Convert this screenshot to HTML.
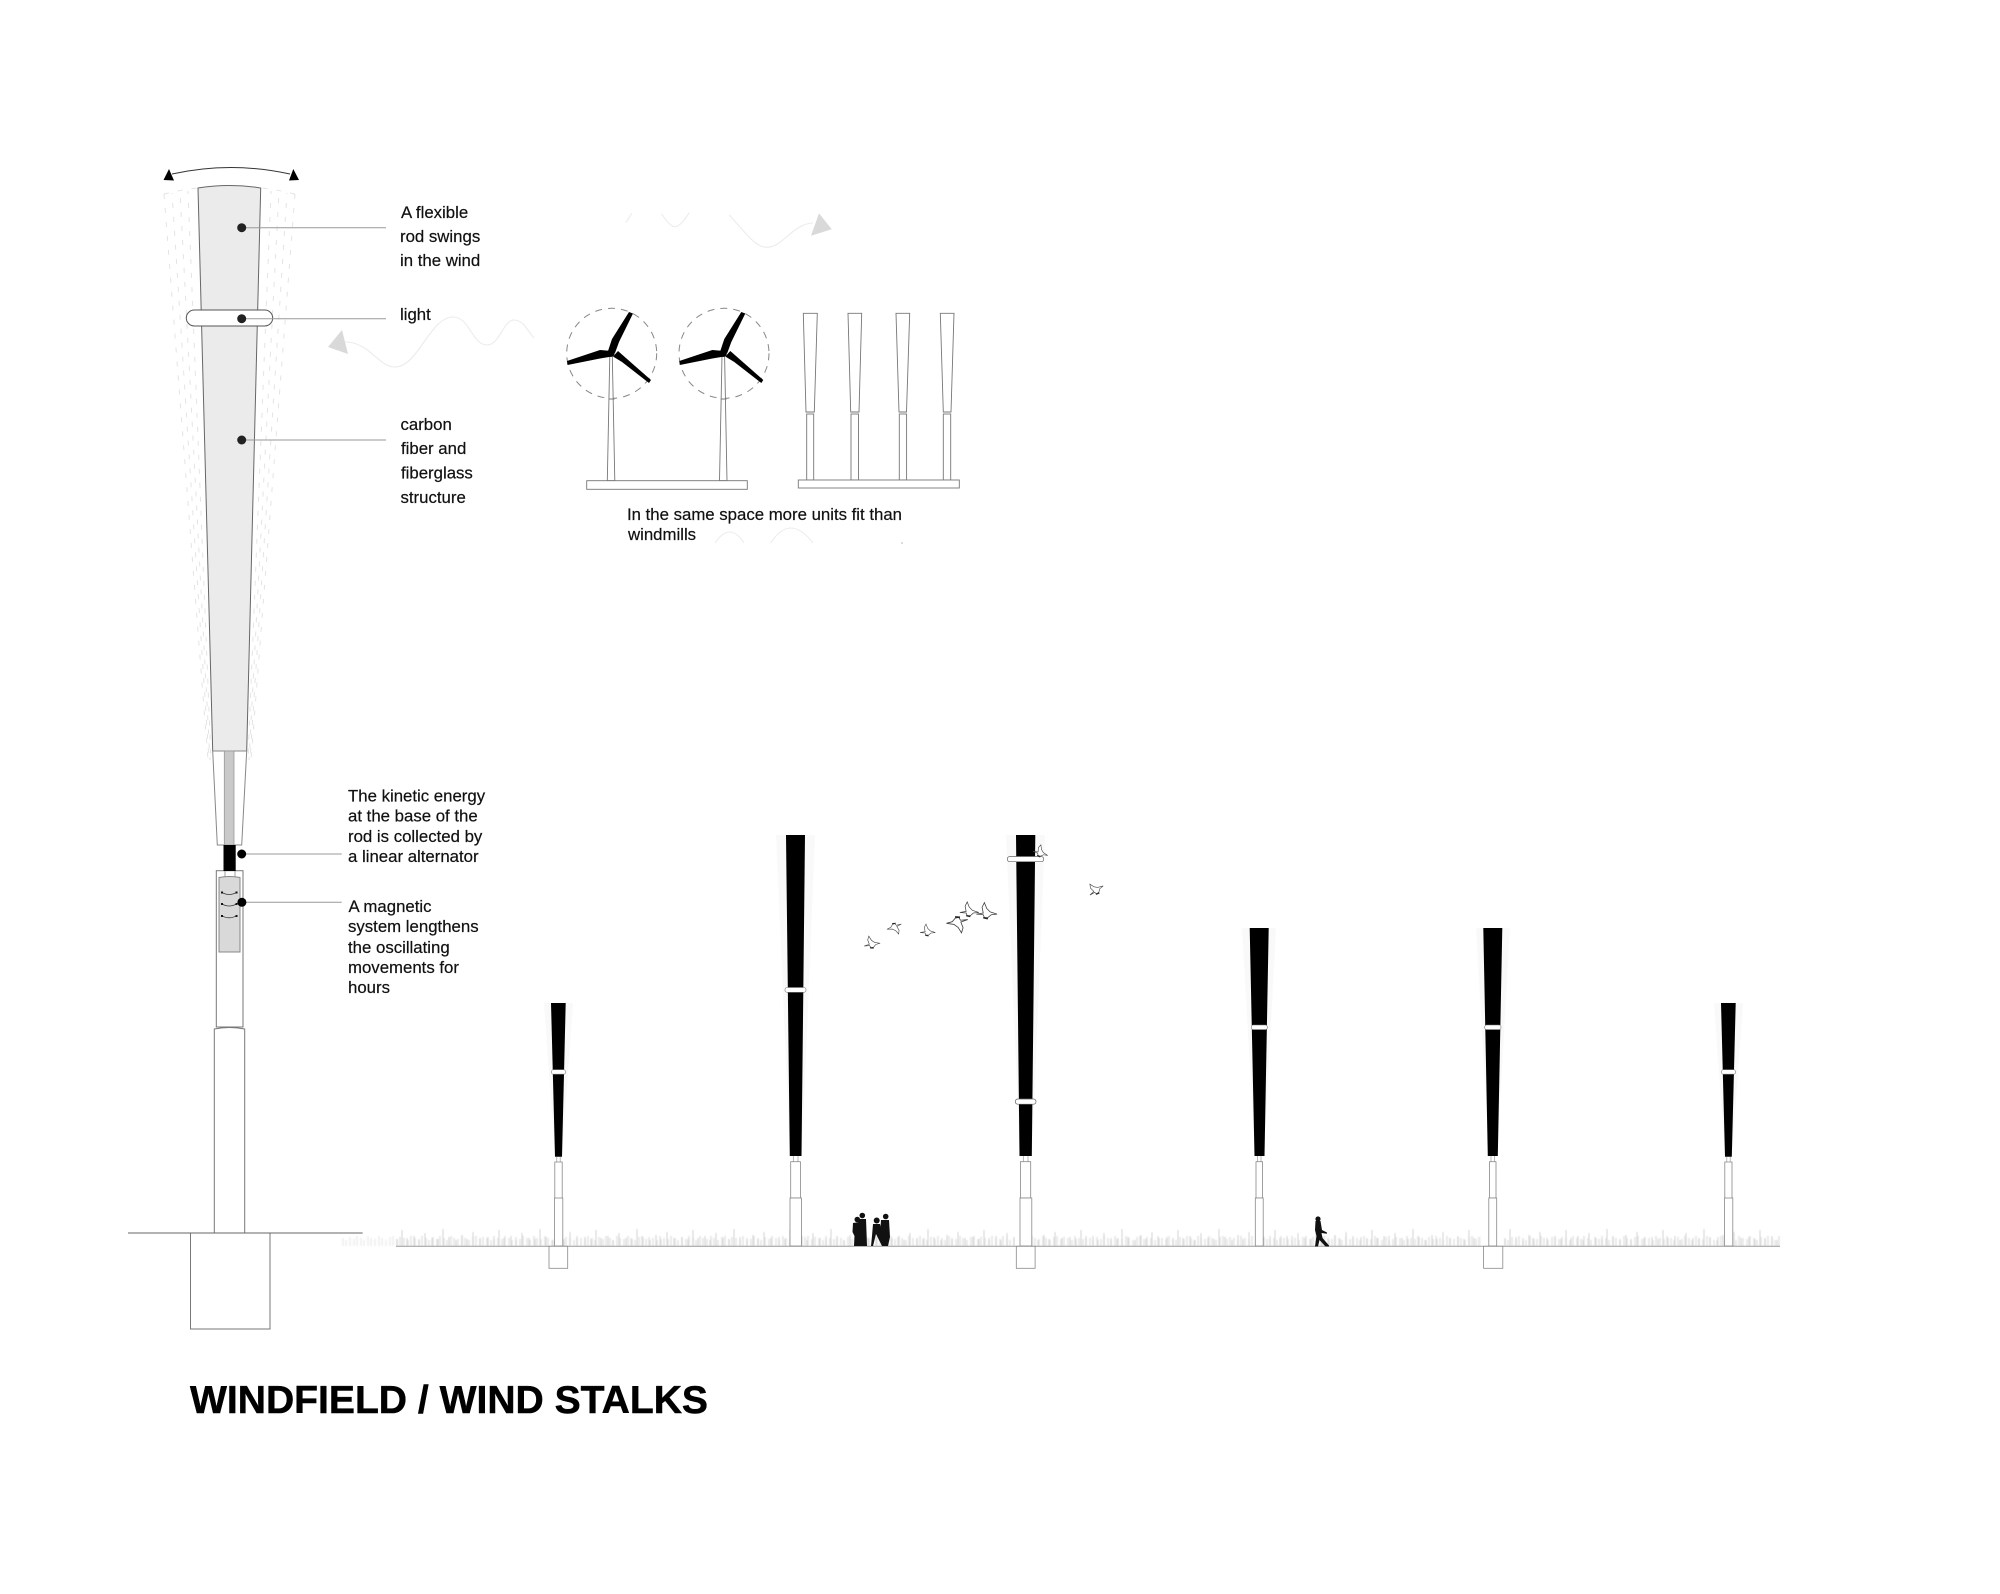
<!DOCTYPE html>
<html><head><meta charset="utf-8"><title>Windfield / Wind Stalks</title>
<style>html,body{margin:0;padding:0;background:#fff}svg{display:block}text{font-family:"Liberation Sans",sans-serif;fill:#111;stroke:#111;stroke-width:.2px;font-size:16.8px}</style>
</head><body>
<svg xmlns="http://www.w3.org/2000/svg" width="2000" height="1594" viewBox="0 0 2000 1594">
<defs>
<filter id="soft" x="-2%" y="-10%" width="104%" height="120%"><feGaussianBlur stdDeviation="0.5"/></filter>
<pattern id="g1" patternUnits="userSpaceOnUse" x="0" y="1224" width="97" height="22">
<g stroke="#d2d2d2" stroke-width="1" fill="none">
<path d="M3 22V13M9 22V15M14 22V6M19 22V14M26 22V12M31 22V16M37 22V9M44 22V14M50 22V15M55 22V5M61 22V13M68 22V16M74 22V11M79 22V15M85 22V8M92 22V14"/>
</g></pattern>
<pattern id="g2" patternUnits="userSpaceOnUse" x="17" y="1224" width="83" height="22">
<g stroke="#e4e4e4" stroke-width="1.6" fill="none">
<path d="M1 22V13M5 22V15M8 22V12M12 22V14M15 22V16M19 22V12M22 22V14M26 22V15M30 22V12M33 22V14M37 22V16M41 22V13M44 22V12M48 22V15M51 22V13M55 22V14M59 22V16M62 22V12M66 22V14M70 22V15M73 22V12M77 22V14M80 22V16"/>
</g></pattern>
<g id="blades">
<polygon fill="#000" points="608,351 612,339 629,312 633,313.500 619,342 615,353"/>
<polygon fill="#000" points="612,351 600,350 567,361 567.500,365 600,358.500 612,356.500"/>
<polygon fill="#000" points="613,356.500 618,351 651,380 649,383 622,362"/>
<circle cx="611" cy="353.300" r="3.600" fill="#000"/>
</g>
<g id="bird">
<path d="M-9,3 L-3,2 L-4,-3 L-2,-7 L0,-2 L3,1 L9,3 L4,3.500 L1,6 L-2,6 L-3,3.500 Z" fill="#fff" stroke="#444" stroke-width="0.7"/>
<path d="M-3,6 L1,7" stroke="#222" stroke-width="1.300"/>
</g>
</defs>
<rect width="2000" height="1594" fill="#fff"/>

<!-- swing fan -->
<g fill="none" stroke="#e4e4e4" stroke-width="1" stroke-dasharray="5 9">
<path d="M164,194Q180,190 197,188M295,194Q279,190 262,188"/>
<path d="M164,194L208,760"/><path d="M172,193L209,760" stroke-dashoffset="4"/>
<path d="M180,192L210,760" stroke-dashoffset="8"/><path d="M188,191L211,760" stroke-dashoffset="2"/>
<path d="M295,194L251,760"/><path d="M287,193L250,760" stroke-dashoffset="4"/>
<path d="M279,192L249,760" stroke-dashoffset="8"/><path d="M271,191L248,760" stroke-dashoffset="2"/>
</g>

<!-- swing arrow -->
<path d="M172,174Q231,161 290,174" fill="none" stroke="#333" stroke-width="1"/>
<polygon points="169,169 163.500,180 174,180.500" fill="#000"/>
<polygon points="293.300,169 299,180 289,180.500" fill="#000"/>

<!-- main rod -->
<path d="M198,188Q229.500,183 260.700,188L246.700,751H212.700Z" fill="#ebebeb" stroke="#666" stroke-width="1"/>
<path d="M212.700,751L217.300,845H241.700L246.700,751Z" fill="#fff" stroke="#888" stroke-width="1"/>
<rect x="224.300" y="751" width="9.700" height="94" fill="#c9c9c9" stroke="#999" stroke-width="0.8"/>
<rect x="186.300" y="310" width="86.400" height="16" rx="8" fill="#fff" stroke="#555" stroke-width="1"/>
<rect x="216.300" y="870.700" width="26.700" height="156.300" fill="#fff" stroke="#777" stroke-width="1"/>
<rect x="223.500" y="845" width="12.200" height="26" fill="#000"/>
<path d="M225,871V877M235,871V877" stroke="#888" stroke-width="0.8"/>
<path d="M219,877.500Q229.500,875.500 240,877.500V952H219Z" fill="#d9d9d9" stroke="#888" stroke-width="1"/>
<g fill="none" stroke="#333" stroke-width="0.8">
<path d="M222,892.500Q229,896.500 236.500,892.500M222,904Q229,908 236.500,904M222,915.800Q229,919.800 236.500,915.800"/>
</g>
<g fill="#111"><rect x="221" y="891.500" width="2" height="2"/><rect x="235.500" y="891.500" width="2" height="2"/><rect x="221" y="903" width="2" height="2"/><rect x="235.500" y="903" width="2" height="2"/><rect x="221" y="915" width="2" height="2"/><rect x="235.500" y="915" width="2" height="2"/></g>
<path d="M214.300,1233V1029Q229.500,1026 244.700,1029V1233" fill="#fff" stroke="#777" stroke-width="1"/>
<rect x="190.500" y="1233" width="79.500" height="96" fill="#fff" stroke="#777" stroke-width="1"/>
<path d="M128,1233H362.700" stroke="#666" stroke-width="1"/>

<!-- leaders -->
<g stroke="#999" stroke-width="1" fill="none">
<path d="M242,227.700H386M242,318.700H386M242,440H386M242,854H341.700M242,902.300H341.700"/>
</g>
<g fill="#222">
<circle cx="241.700" cy="227.700" r="4.500"/><circle cx="241.700" cy="318.700" r="4.500"/><circle cx="241.700" cy="440" r="4.500"/>
</g>
<g fill="#000"><circle cx="241.700" cy="854" r="4.500"/><circle cx="241.900" cy="902.300" r="4.500"/></g>

<!-- labels -->
<text x="401" y="218">A flexible</text>
<text x="400" y="242">rod swings</text>
<text x="400" y="266">in the wind</text>
<text x="400" y="320">light</text>
<text x="400.500" y="430">carbon</text>
<text x="401" y="454">fiber and</text>
<text x="401" y="478.500">fiberglass</text>
<text x="400.500" y="503">structure</text>
<text x="348" y="801.700">The kinetic energy</text>
<text x="348" y="821.700">at the base of the</text>
<text x="348" y="842">rod is collected by</text>
<text x="348" y="862">a linear alternator</text>
<text x="348.500" y="912">A magnetic</text>
<text x="348" y="932">system lengthens</text>
<text x="348" y="953">the oscillating</text>
<text x="348" y="973">movements for</text>
<text x="348" y="993">hours</text>
<text x="627" y="520" textLength="275">In the same space more units fit than</text>
<text x="628" y="540">windmills</text>

<!-- wind waves -->
<g fill="none" stroke="#ececec" stroke-width="1.100">
<path d="M345,342C370,342 378,367 395,367C418,367 430,317 453,317C470,317 472,345 487,345C500,345 503,320 514,320C524,320 528,332 534,338"/>
<path d="M626,222.700L631.700,213.300M661.700,214C667,222 671,226.700 675,226.700C680,226.700 685,219 689.300,212.700M729.300,215C745,232 755,247.300 767,247.300C783,247.300 792,224 813,223"/>
<path d="M715,543Q730,521 744,543M770.700,543Q790,513 813,543"/>
</g>
<polygon points="328,347 342,330 348,354" fill="#d9d9d9"/>
<polygon points="819,213.300 831.700,229.300 811,235.700" fill="#d9d9d9"/>
<rect x="901" y="542" width="2" height="2" fill="#ddd"/>

<!-- windmills -->
<g fill="none" stroke="#888" stroke-width="1" stroke-dasharray="7 6">
<circle cx="611.700" cy="353.300" r="45"/><circle cx="724" cy="353.300" r="45"/>
</g>
<g fill="#fff" stroke="#777" stroke-width="0.9">
<polygon points="609.800,356 612.300,356 614.800,480.700 607.300,480.700"/>
<polygon points="722,356 724.600,356 727,480.700 719.500,480.700"/>
<rect x="586.700" y="480.700" width="160.600" height="8.600"/>
<path d="M608.500,399H614.500M720.700,399H726.500" fill="none"/>
</g>
<use href="#blades"/>
<use href="#blades" x="112.300"/>

<g fill="#fff" stroke="#777" stroke-width="0.9">
<polygon points="803.300,313.300 817.300,313.300 814.300,412 806,412"/><rect x="806.700" y="414" width="7" height="66"/>
<polygon points="848,313.300 861.700,313.300 859,412 850.700,412"/><rect x="851" y="414" width="7.500" height="66"/>
<polygon points="896,313.300 909.700,313.300 906.500,412 899,412"/><rect x="899.300" y="414" width="7.300" height="66"/>
<polygon points="940.300,313.300 954,313.300 951,412 943.300,412"/><rect x="943.300" y="414" width="7.400" height="66"/>
<rect x="798.300" y="480" width="161" height="8"/>
</g>

<!-- grass -->
<g filter="url(#soft)">
<rect x="342" y="1233" width="54" height="13" fill="url(#g2)" opacity="0.6"/>
<rect x="396" y="1224" width="1384" height="22" fill="url(#g2)"/>
<rect x="396" y="1224" width="1384" height="22" fill="url(#g1)"/>
</g>
<rect x="1480.500" y="1222" width="23" height="24" fill="#fff"/>
<rect x="1015" y="1222" width="17" height="24" fill="#fff"/>
<path d="M396,1246.300H1780" stroke="#999" stroke-width="1"/>

<!-- field poles: faint fans -->
<g fill="#f9f9f9">
<polygon points="544,1003 573,1003 562,1156 555,1156"/>
<polygon points="776,835 815,835 802,1156 790,1156"/>
<polygon points="1006,835 1045,835 1032,1156 1020,1156"/>
<polygon points="1242,928 1276,928 1264,1156 1255,1156"/>
<polygon points="1476,928 1510,928 1497,1156 1489,1156"/>
<polygon points="1714,1003 1743,1003 1732,1156 1725,1156"/>
</g>

<!-- pole 1 -->
<g>
<polygon points="551,1003 565.700,1003 562,1156.700 555,1156.700" fill="#000"/>
<rect x="551.500" y="1069.700" width="14" height="4.500" rx="2" fill="#fff" stroke="#777" stroke-width="0.6"/>
<path d="M556.800,1157V1162M560.200,1157V1162" stroke="#999" stroke-width="0.7"/>
<path d="M554.800,1198V1162H562.200V1198" fill="#fff" stroke="#888" stroke-width="0.8"/>
<rect x="554.500" y="1198" width="8.300" height="48" fill="#fff" stroke="#888" stroke-width="0.8"/>
<rect x="549" y="1246.300" width="18.700" height="22" fill="#fff" stroke="#888" stroke-width="0.8"/>
</g>
<!-- pole 2 -->
<g>
<polygon points="786,835 805,835 801.500,1156 789.800,1156" fill="#000"/>
<rect x="785" y="987.500" width="21" height="4.800" rx="2.200" fill="#fff" stroke="#777" stroke-width="0.6"/>
<path d="M793.300,1156V1162M798,1156V1162" stroke="#999" stroke-width="0.7"/>
<rect x="790.700" y="1161.700" width="9.700" height="36.300" fill="#fff" stroke="#888" stroke-width="0.8"/>
<rect x="790" y="1198" width="11.500" height="48" fill="#fff" stroke="#888" stroke-width="0.8"/>
</g>
<!-- pole 3 -->
<g>
<polygon points="1016,835 1035.300,835 1031.800,1156 1019.500,1156" fill="#000"/>
<rect x="1007.300" y="856.500" width="36.400" height="5.200" rx="2.500" fill="#fff" stroke="#666" stroke-width="0.7"/>
<rect x="1015.300" y="1099" width="20.700" height="5.200" rx="2.500" fill="#fff" stroke="#666" stroke-width="0.7"/>
<path d="M1023.300,1156V1162M1028,1156V1162" stroke="#999" stroke-width="0.7"/>
<rect x="1020.400" y="1161.700" width="10.300" height="36.300" fill="#fff" stroke="#888" stroke-width="0.8"/>
<rect x="1020" y="1198" width="11.800" height="48" fill="#fff" stroke="#888" stroke-width="0.8"/>
<rect x="1016.300" y="1246.300" width="18.800" height="22" fill="#fff" stroke="#888" stroke-width="0.8"/>
</g>
<!-- pole 4 -->
<g>
<polygon points="1249.700,928 1268.700,928 1264.500,1156 1254.500,1156" fill="#000"/>
<rect x="1251.300" y="1025" width="16" height="4.600" rx="2" fill="#fff" stroke="#777" stroke-width="0.6"/>
<path d="M1257.500,1156V1162M1261,1156V1162" stroke="#999" stroke-width="0.7"/>
<rect x="1256" y="1161.700" width="6.500" height="36.300" fill="#fff" stroke="#888" stroke-width="0.8"/>
<rect x="1255.300" y="1198" width="7.900" height="48" fill="#fff" stroke="#888" stroke-width="0.8"/>
</g>
<!-- pole 5 -->
<g>
<polygon points="1483.300,928 1502.300,928 1497.800,1156 1487.800,1156" fill="#000"/>
<rect x="1484.700" y="1025" width="16.300" height="4.600" rx="2" fill="#fff" stroke="#777" stroke-width="0.6"/>
<path d="M1491,1156V1162M1494.500,1156V1162" stroke="#999" stroke-width="0.7"/>
<rect x="1489.500" y="1161.700" width="6.500" height="36.300" fill="#fff" stroke="#888" stroke-width="0.8"/>
<rect x="1488.800" y="1198" width="7.900" height="48" fill="#fff" stroke="#888" stroke-width="0.8"/>
<rect x="1483.600" y="1246.300" width="19.200" height="22" fill="#fff" stroke="#888" stroke-width="0.8"/>
</g>
<!-- pole 6 -->
<g>
<polygon points="1721,1003 1735.700,1003 1731.800,1156.700 1725,1156.700" fill="#000"/>
<rect x="1721.500" y="1069.700" width="14" height="4.500" rx="2" fill="#fff" stroke="#777" stroke-width="0.6"/>
<path d="M1726.800,1157V1162M1730.200,1157V1162" stroke="#999" stroke-width="0.7"/>
<path d="M1724.800,1198V1162H1732V1198" fill="#fff" stroke="#888" stroke-width="0.8"/>
<rect x="1724.500" y="1198" width="8.300" height="48" fill="#fff" stroke="#888" stroke-width="0.8"/>
</g>

<!-- birds -->
<use href="#bird" transform="translate(871.700,942) rotate(-10) scale(0.9)"/>
<use href="#bird" transform="translate(895,929) rotate(160) scale(0.85)"/>
<use href="#bird" transform="translate(927.700,930) scale(0.85)"/>
<use href="#bird" transform="translate(957.700,925) rotate(170) scale(1.200)"/>
<use href="#bird" transform="translate(969.300,909.300) scale(1.050)"/>
<use href="#bird" transform="translate(986.700,910.700) scale(1.150)"/>
<use href="#bird" transform="translate(1041,851) rotate(15) scale(0.85)"/>
<use href="#bird" transform="translate(1095,888.300) rotate(-35) scale(0.9)"/>

<!-- people -->
<g fill="#111">
<circle cx="857.300" cy="1219.500" r="2.800"/>
<polygon points="853,1223 860,1222 862,1234 861,1246 854,1246 854.500,1236 852.500,1232"/>
<circle cx="862.300" cy="1215.500" r="2.800"/>
<polygon points="858,1219 866,1219 866.500,1232 867,1246 860,1246 859,1232"/>
<circle cx="876.700" cy="1220.500" r="3"/>
<polygon points="873,1224 880,1224 884,1240 887,1246 882,1246 876,1234 873,1246 871,1246 872,1236"/>
<circle cx="885.700" cy="1216.500" r="2.800"/>
<polygon points="881,1220 889,1220 890,1237 888,1246 884,1246 880,1236"/>
<circle cx="1318" cy="1219" r="2.600"/>
<polygon points="1315.500,1221 1320.500,1221 1322,1230 1327,1232.500 1326.800,1233.800 1321.500,1233 1322.500,1238 1329,1245.500 1329,1246.500 1325.500,1246.500 1319.500,1240 1318,1246.500 1315,1246.500 1316.500,1236 1315,1230"/>
</g>

<!-- title -->
<text x="190" y="1413" style="font-size:39px;font-weight:bold;fill:#000;stroke:#000;stroke-width:.5px" textLength="518" lengthAdjust="spacingAndGlyphs">WINDFIELD / WIND STALKS</text>
</svg>
</body></html>
